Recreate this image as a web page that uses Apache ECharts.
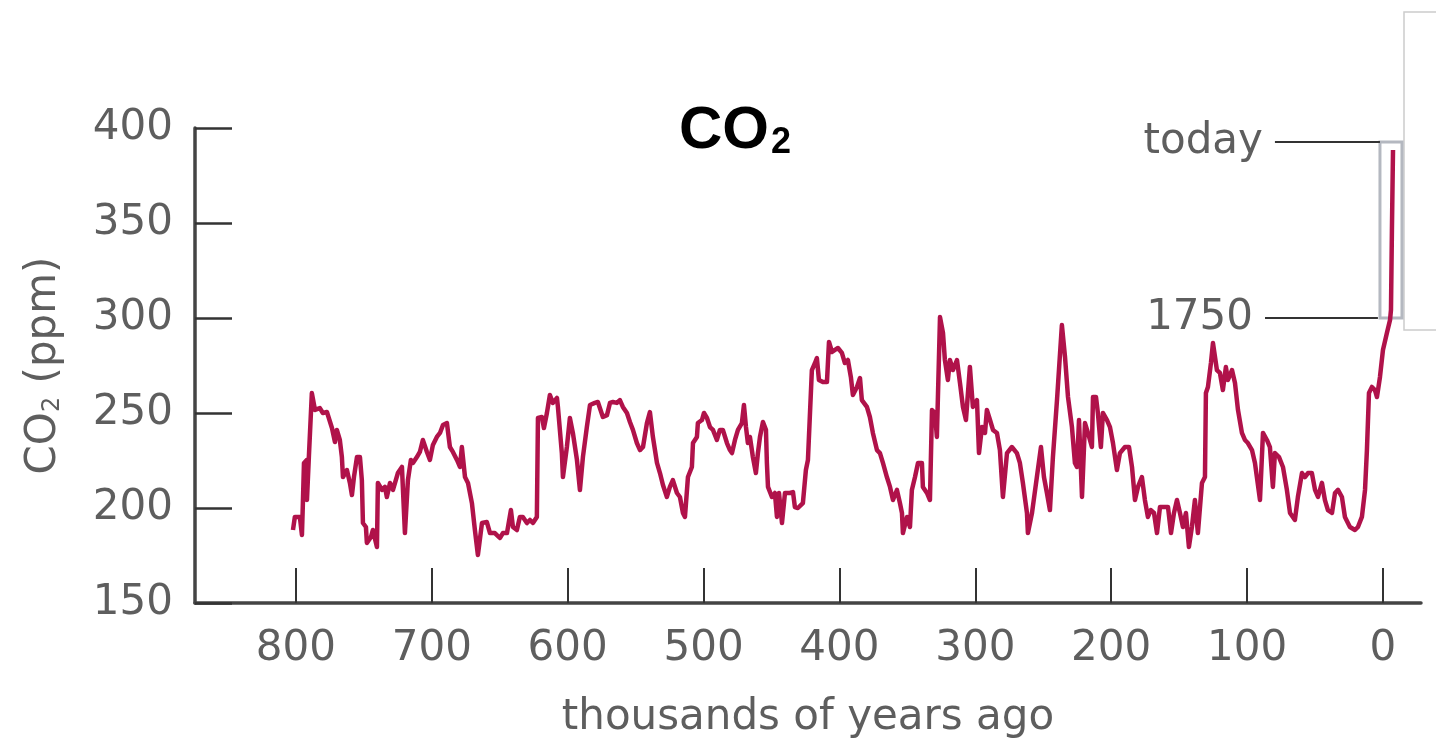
<!DOCTYPE html>
<html>
<head>
<meta charset="utf-8">
<style>
  html, body { margin: 0; padding: 0; background: #ffffff; }
  #chart { width: 1436px; height: 742px; }
</style>
<script src="https://cdn.jsdelivr.net/npm/echarts@6/dist/echarts.min.js"></script>
</head>
<body>
<div id="chart"></div>
<script>
// thousands of years ago
const kyrAgo = [
  802.2, 800.8, 797.1, 795.6, 794.9, 794.1, 791.9, 791.9, 790.5, 788.3,
  786.0, 782.4, 780.2, 777.2, 773.5, 771.3, 769.9, 767.7, 766.2, 765.4,
  762.5, 760.3, 758.8, 757.3, 755.1, 752.9, 751.5, 750.7, 748.5, 747.8,
  744.8, 743.4, 740.4, 739.7, 736.7, 734.5, 733.1, 730.8, 728.6, 725.0,
  722.0, 719.8, 717.6, 715.4, 713.9, 711.0, 708.8, 706.6, 703.6, 701.4,
  699.2, 696.3, 694.0, 691.8, 688.9, 686.7, 684.5, 681.5, 679.3, 677.9,
  675.6, 673.4, 670.5, 668.3, 666.1, 663.1, 659.5, 657.2, 653.6, 649.9,
  647.7, 644.7, 641.8, 640.3, 637.4, 635.2, 633.0, 630.0, 627.8, 625.6,
  622.7, 621.9, 619.0, 617.5, 615.3, 613.1, 610.9, 607.9, 607.2, 604.3,
  603.5, 600.6, 598.4, 596.2, 593.2, 591.0, 588.8, 585.9, 583.6, 580.0,
  577.8, 574.1, 571.1, 568.9, 566.7, 563.8, 561.6, 559.4, 556.4, 554.2,
  552.0, 549.1, 546.8, 544.6, 541.7, 539.5, 537.3, 534.3, 532.1, 529.9,
  527.0, 524.8, 522.6, 519.6, 517.4, 515.2, 513.7, 511.5, 508.6, 507.8,
  504.9, 504.2, 501.2, 499.7, 497.5, 495.3, 493.1, 490.2, 488.0, 485.8,
  482.8, 480.6, 479.1, 476.9, 474.7, 471.8, 470.3, 468.8, 467.4, 465.9,
  463.7, 461.5, 460.0, 458.5, 456.3, 454.1, 453.4, 452.6, 449.7, 447.5,
  446.0, 444.5, 442.3, 440.1, 436.4, 434.2, 432.8, 430.6, 426.9, 424.7,
  423.2, 420.3, 418.0, 416.6, 415.1, 412.2, 409.2, 407.7, 405.5, 403.3,
  401.1, 398.2, 396.0, 393.8, 391.6, 390.1, 387.1, 384.9, 383.5, 379.8,
  377.6, 375.4, 372.4, 370.2, 368.0, 365.1, 362.8, 360.6, 357.7, 355.5,
  354.0, 353.3, 350.3, 348.1, 346.7, 344.4, 342.2, 339.3, 338.6, 335.6,
  333.4, 331.9, 329.7, 328.3, 326.0, 323.8, 322.4, 320.2, 318.7, 316.5,
  313.5, 311.3, 309.1, 306.9, 304.0, 301.8, 298.8, 297.3, 295.1, 292.9,
  291.5, 289.2, 287.0, 284.1, 281.9, 279.7, 276.7, 273.1, 269.4, 267.2,
  265.0, 262.0, 261.3, 258.3, 254.7, 251.7, 249.5, 247.3, 245.1, 242.9,
  239.9, 236.3, 234.0, 231.8, 228.9, 226.7, 225.2, 223.7, 221.5, 219.3,
  217.1, 214.2, 213.4, 211.2, 209.8, 207.6, 206.1, 203.1, 200.9, 198.7,
  195.8, 193.6, 189.9, 186.9, 184.7, 182.5, 180.3, 177.4, 175.2, 173.0,
  170.8, 168.5, 166.3, 164.1, 160.4, 158.2, 156.0, 153.8, 151.6, 149.4,
  147.2, 145.0, 142.8, 140.6, 138.4, 136.2, 133.2, 131.0, 130.3, 128.8,
  126.6, 125.1, 122.2, 120.0, 117.8, 115.6, 114.1, 111.1, 108.9, 106.7,
  103.8, 101.6, 99.4, 96.4, 94.2, 90.5, 88.3, 85.4, 83.2, 81.0,
  79.5, 76.5, 73.6, 70.7, 68.4, 64.8, 62.6, 59.6, 57.4, 55.2,
  52.3, 50.0, 47.8, 44.9, 42.7, 40.5, 37.5, 35.3, 33.1, 30.2,
  28.0, 24.3, 20.6, 18.4, 15.5, 13.2, 11.8, 10.3, 8.1, 5.9,
  4.4, 2.2, 0.0, -2.9, -5.2, -5.9, -6.6, -7.4
];
// CO2 concentration, ppm
const co2ppm = [
  188.4, 195.3, 195.3, 185.8, 202.6, 223.7, 225.3, 204.2, 226.8, 260.5,
  251.6, 252.6, 250.0, 250.5, 242.1, 234.7, 241.1, 235.8, 226.8, 216.3,
  220.0, 213.2, 206.8, 216.3, 226.8, 226.8, 214.7, 192.1, 190.0, 181.6,
  184.7, 188.4, 179.5, 213.2, 209.5, 211.1, 205.8, 213.2, 209.5, 218.4,
  221.6, 186.8, 214.7, 225.3, 223.7, 226.8, 229.5, 235.8, 229.5, 225.3,
  233.2, 237.4, 239.5, 243.7, 244.7, 232.1, 229.5, 225.3, 221.6, 232.1,
  216.3, 213.2, 202.6, 188.4, 175.3, 192.1, 192.6, 186.8, 186.8, 184.2,
  186.8, 186.8, 198.9, 190.0, 188.4, 195.3, 195.3, 192.1, 193.7, 192.1,
  195.3, 247.4, 247.9, 242.1, 250.0, 259.5, 255.3, 257.9, 253.2, 228.9,
  216.3, 232.1, 247.4, 239.5, 225.3, 209.5, 226.8, 242.6, 254.2, 255.3,
  255.8, 247.9, 248.9, 255.3, 255.8, 255.3, 256.8, 253.2, 250.0, 245.3,
  241.1, 234.2, 230.5, 232.1, 244.7, 250.5, 237.4, 223.7, 218.4, 212.1,
  205.8, 211.1, 214.7, 207.9, 205.8, 197.4, 195.3, 216.3, 221.6, 234.2,
  237.4, 244.7, 246.3, 250.0, 247.4, 242.6, 241.1, 235.8, 241.1, 241.1,
  234.2, 230.5, 228.9, 235.8, 241.1, 244.7, 254.2, 242.6, 234.2, 237.4,
  226.8, 218.4, 228.9, 237.4, 245.3, 241.1, 223.7, 211.1, 205.8, 207.9,
  195.3, 207.9, 192.1, 207.9, 207.9, 208.4, 200.5, 200.0, 202.6, 220.0,
  225.3, 272.6, 276.3, 278.9, 267.4, 266.3, 266.3, 287.4, 282.1, 283.2,
  284.2, 281.6, 276.3, 277.9, 268.9, 259.5, 263.7, 268.4, 256.8, 253.2,
  247.9, 239.5, 230.5, 228.9, 223.7, 216.3, 211.1, 204.2, 209.5, 202.6,
  197.4, 186.8, 195.3, 190.0, 209.5, 216.3, 223.7, 223.7, 211.1, 207.9,
  204.2, 251.6, 250.0, 237.4, 300.5, 292.1, 277.9, 267.4, 277.9, 272.6,
  277.9, 265.8, 253.2, 246.3, 274.2, 253.2, 256.8, 228.9, 242.6, 239.5,
  251.6, 246.3, 241.1, 239.5, 230.5, 205.8, 228.9, 232.1, 228.9, 223.7,
  213.2, 197.4, 186.8, 197.4, 216.3, 232.1, 216.3, 207.9, 198.9, 226.8,
  256.8, 296.3, 279.5, 258.4, 242.6, 223.7, 221.6, 246.3, 205.8, 244.7,
  239.5, 232.1, 258.4, 258.4, 250.0, 232.1, 250.0, 246.3, 242.6, 234.2,
  220.0, 228.9, 232.1, 232.1, 221.6, 204.2, 211.1, 216.3, 204.2, 195.3,
  198.9, 197.4, 186.8, 200.5, 200.5, 200.5, 186.8, 197.4, 204.2, 197.4,
  190.0, 197.4, 179.5, 190.0, 204.2, 186.8, 213.2, 216.3, 260.5, 263.7,
  276.3, 286.8, 272.6, 271.1, 262.1, 274.2, 267.4, 272.6, 265.8, 251.6,
  239.5, 235.8, 234.2, 230.5, 223.7, 204.2, 239.5, 235.8, 232.1, 211.1,
  228.9, 226.8, 221.6, 209.5, 197.4, 193.7, 205.8, 218.4, 216.3, 218.4,
  218.4, 209.5, 205.8, 213.2, 204.2, 198.9, 197.4, 207.9, 209.5, 205.8,
  195.3, 190.0, 188.4, 190.0, 195.3, 209.5, 230.5, 260.5, 263.7, 262.1,
  258.4, 268.9, 283.2, 292.1, 298.9, 304.2, 346.3, 388.4
];
const xTickValues = [0, 100, 200, 300, 400, 500, 600, 700, 800];
const titleMain = 'CO';
const titleSub = '2';
const yName = ['CO', '2', ' (ppm)'];
const xName = 'thousands of years ago';
// annotation values
const todayLabel = 'today';
const todayPpm = 392.6;
const preIndLabel = '1750';
const preIndPpm = 300;
const annotLineFrom = 79.5;
const annotLineTo = 2.2;
const annotLineFrom2 = 86.8;
const annotLineTo2 = 3.7;
const boxKyr = [2.2, -14];

const seriesData = kyrAgo.map((k, i) => [k, co2ppm[i]]);

const chart = echarts.init(document.getElementById('chart'));
const TFONT = '"Liberation Sans", Arial, Helvetica, sans-serif';
const FONT = '"DejaVu Sans", "Liberation Sans", sans-serif';
const GRAY = '#5e5e5e';

chart.setOption({
  animation: false,
  backgroundColor: '#ffffff',
  title: {
    text: '{a|' + titleMain + '}{b|' + titleSub + '}',
    left: 674,
    top: 92,
    textStyle: {
      rich: {
        a: { fontFamily: TFONT, fontWeight: 'bold', fontSize: 60, color: '#000', lineHeight: 64, verticalAlign: 'bottom' },
        b: { fontFamily: TFONT, fontWeight: 'bold', fontSize: 36, color: '#000', lineHeight: 36, verticalAlign: 'bottom', padding: [0, 0, 0, 2] }
      }
    }
  },
  grid: { left: 195, right: 15, top: 128, bottom: 139, containLabel: false, outerBoundsMode: 'none' },
  graphic: [{
    type: 'rect',
    shape: { x: 1404, y: 12, width: 60, height: 318 },
    style: { fill: 'none', stroke: '#cccccc', lineWidth: 1.5 },
    z: 1
  }],
  xAxis: {
    type: 'value',
    inverse: true,
    min: -28,
    max: 874.3,
    name: xName,
    nameLocation: 'middle',
    nameGap: 94,
    nameTextStyle: { fontFamily: FONT, fontSize: 42, color: GRAY },
    axisLine: { show: true, onZero: false, lineStyle: { color: '#444', width: 3.5 } },
    axisTick: { show: true, inside: true, length: 35, customValues: xTickValues, lineStyle: { color: '#333', width: 2 } },
    axisLabel: { customValues: xTickValues, margin: 25, fontFamily: FONT, fontSize: 42, color: GRAY },
    splitLine: { show: false }
  },
  yAxis: {
    type: 'value',
    min: 150,
    max: 400,
    interval: 50,
    name: '{a|' + yName[0] + '}{b|' + yName[1] + '}{a|' + yName[2] + '}',
    nameLocation: 'middle',
    nameGap: 130,
    nameTextStyle: {
      rich: {
        a: { fontFamily: FONT, fontSize: 42, color: GRAY, lineHeight: 46, verticalAlign: 'bottom' },
        b: { fontFamily: FONT, fontSize: 24, color: GRAY, lineHeight: 24, verticalAlign: 'bottom' }
      }
    },
    axisLine: { show: true, onZero: false, lineStyle: { color: '#444', width: 3.5 } },
    axisTick: { show: true, inside: true, length: 37, lineStyle: { color: '#333', width: 2.5 } },
    axisLabel: { margin: 22, fontFamily: FONT, fontSize: 42, color: GRAY },
    splitLine: { show: false }
  },
  series: [{
    type: 'line',
    data: seriesData,
    showSymbol: false,
    symbol: 'none',
    lineStyle: { color: '#b0124a', width: 4.5, join: 'round' },
    z: 5,
    markArea: {
      silent: true,
      itemStyle: { color: 'rgba(255,255,255,0)', borderColor: '#b4b8c0', borderWidth: 3 },
      data: [[{ coord: [boxKyr[0], todayPpm] }, { coord: [boxKyr[1], preIndPpm] }]]
    },
    markLine: {
      silent: true,
      symbol: ['none', 'none'],
      lineStyle: { color: '#333', width: 2, type: 'solid' },
      label: { show: true, position: 'start', distance: 12, fontFamily: FONT, fontSize: 42, color: GRAY },
      data: [
        [{ coord: [annotLineFrom, todayPpm], label: { formatter: todayLabel } }, { coord: [annotLineTo, todayPpm] }],
        [{ coord: [annotLineFrom2, preIndPpm], label: { formatter: preIndLabel } }, { coord: [annotLineTo2, preIndPpm] }]
      ]
    }
  }]
});
</script>
</body>
</html>
